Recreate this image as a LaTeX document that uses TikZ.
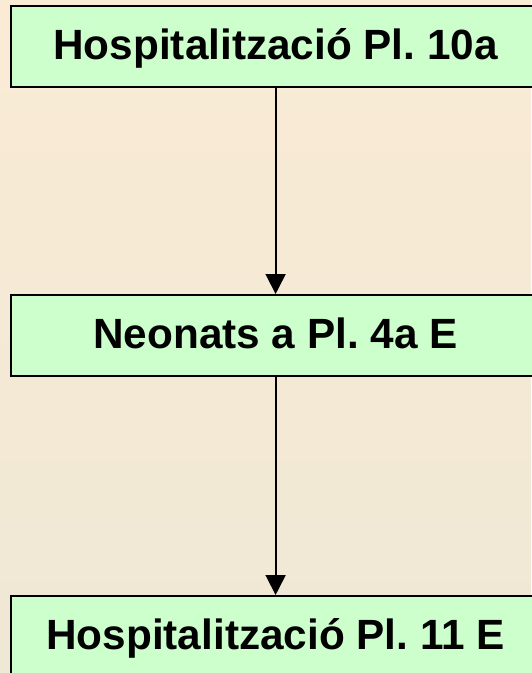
\documentclass[tikz,border=0pt]{standalone}
\usepackage{fontspec}
\setmainfont{Liberation Sans}
\usetikzlibrary{arrows.meta}
\definecolor{boxfill}{HTML}{CCFFCC}
\definecolor{bgtop}{RGB}{250,235,213}
\definecolor{bgbot}{RGB}{239,232,213}
\frenchspacing
\begin{document}
\begin{tikzpicture}[x=1pt,y=-1pt,
  boxnode/.style={draw=black, line width=2.2pt, fill=boxfill, minimum width=529pt,
    minimum height=81pt, inner sep=0pt, text height=31pt, text depth=5pt,
    font=\fontsize{42.3}{50}\selectfont\bfseries, anchor=north west},
  conn/.style={line width=1.8pt, -{Triangle[width=20pt,length=20pt]}}]
\fill[top color=bgtop, bottom color=bgbot] (0,0) rectangle (531,673);
\useasboundingbox (0,0) rectangle (531,673);
\node[boxnode] (a) at (10,5) {Hospitalització Pl. 10a};
\node[boxnode] (b) at (10,294) {Neonats a Pl. 4a E};
\node[boxnode] (c) at (10,595) {Hospitalització Pl. 11 E};
\draw[conn] (a.south) -- (b.north);
\draw[conn] (b.south) -- (c.north);
\end{tikzpicture}
\end{document}
